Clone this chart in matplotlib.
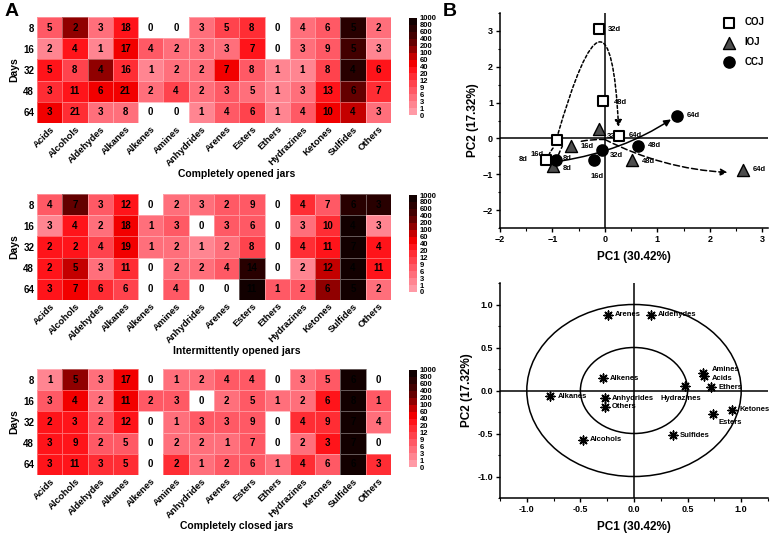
import numpy as np
import matplotlib
matplotlib.use("Agg")
import matplotlib.pyplot as plt
from matplotlib.colors import ListedColormap, BoundaryNorm
from matplotlib.patches import FancyArrowPatch, Ellipse
from matplotlib.path import Path
from matplotlib.ticker import MultipleLocator

plt.rcParams['font.family'] = ['Liberation Sans', 'DejaVu Sans']
plt.rcParams['font.weight'] = 'bold'

# ---------------- data ----------------
categories = ["Acids", "Alcohols", "Aldehydes", "Alkanes", "Alkenes", "Amines", "Anhydrides",
              "Arenes", "Esters", "Ethers", "Hydrazines", "Ketones", "Sulfides", "Others"]
days = ["8", "16", "32", "48", "64"]

coj_counts = [[5, 2, 3, 18, 0, 0, 3, 5, 8, 0, 4, 6, 5, 2],
              [2, 4, 1, 17, 4, 2, 3, 3, 7, 0, 3, 9, 5, 3],
              [5, 8, 4, 16, 1, 2, 2, 7, 8, 1, 1, 8, 4, 6],
              [3, 11, 6, 21, 2, 4, 2, 3, 5, 1, 3, 13, 6, 7],
              [3, 21, 3, 8, 0, 0, 1, 4, 6, 1, 4, 10, 4, 3]]
coj_level = [[7, 150, 3, 30, 0, 0, 3, 10, 15, 0, 3, 7, 700, 3],
             [2, 30, 2, 40, 8, 4, 3, 5, 25, 0, 3, 8, 500, 2],
             [25, 10, 100, 15, 2, 3, 3, 40, 7, 2, 2, 10, 700, 25],
             [15, 20, 40, 40, 3, 10, 3, 7, 4, 2, 3, 20, 300, 12],
             [40, 15, 4, 5, 0, 0, 2, 7, 10, 2, 7, 40, 80, 4]]

ioj_counts = [[4, 7, 3, 12, 0, 2, 3, 2, 9, 0, 4, 7, 6, 3],
              [3, 4, 2, 18, 1, 3, 0, 3, 6, 0, 3, 10, 4, 3],
              [2, 2, 4, 19, 1, 2, 1, 2, 8, 0, 4, 11, 7, 4],
              [2, 5, 3, 11, 0, 2, 2, 4, 14, 0, 2, 12, 4, 11],
              [3, 7, 6, 6, 0, 4, 0, 0, 11, 1, 2, 6, 5, 2]]
ioj_level = [[7, 200, 7, 30, 0, 3, 3, 6, 8, 0, 12, 6, 700, 700],
             [2, 30, 3, 50, 3, 7, 0, 6, 7, 0, 3, 15, 800, 2],
             [30, 25, 10, 40, 4, 4, 2, 4, 10, 0, 12, 25, 800, 25],
             [30, 80, 4, 15, 0, 3, 3, 6, 700, 0, 2, 70, 800, 25],
             [25, 40, 12, 10, 0, 6, 0, 0, 900, 6, 6, 150, 900, 5]]

ccj_counts = [[1, 5, 3, 17, 0, 1, 2, 4, 4, 0, 3, 5, 6, 0],
              [3, 4, 2, 11, 2, 3, 0, 2, 5, 1, 2, 6, 8, 1],
              [2, 3, 2, 12, 0, 1, 3, 3, 9, 0, 4, 9, 7, 4],
              [3, 9, 2, 5, 0, 2, 2, 1, 7, 0, 2, 3, 7, 0],
              [3, 11, 3, 5, 0, 2, 1, 2, 6, 1, 4, 6, 6, 3]]
ccj_level = [[2, 150, 3, 40, 0, 3, 3, 8, 6, 0, 3, 6, 900, 0],
             [7, 40, 3, 50, 6, 6, 0, 5, 7, 5, 4, 20, 900, 8],
             [30, 25, 7, 25, 0, 3, 7, 8, 8, 0, 15, 15, 900, 4],
             [30, 25, 7, 8, 0, 5, 4, 3, 7, 0, 4, 25, 900, 0],
             [30, 30, 15, 12, 0, 15, 3, 7, 7, 3, 15, 8, 900, 12]]

heat_titles = ["Completely opened jars", "Intermittently opened jars", "Completely closed jars"]
cbar_bounds = [0, 1, 3, 6, 9, 12, 20, 40, 60, 100, 200, 400, 600, 800, 1000]

# PCA scores
groups = ["COJ", "IOJ", "CCJ"]
coj_pc1 = [-1.12, -0.92, -0.12, -0.04, 0.26]
coj_pc2 = [-0.59, -0.05, 3.05, 1.04, 0.07]
ioj_pc1 = [-0.98, -0.65, -0.12, 0.52, 2.64]
ioj_pc2 = [-0.76, -0.20, 0.25, -0.60, -0.88]
ccj_pc1 = [-0.94, -0.20, -0.06, 0.63, 1.38]
ccj_pc2 = [-0.60, -0.60, -0.33, -0.21, 0.63]
time_labels = ["8d", "16d", "32d", "48d", "64d"]

# PCA loadings
load_names = ["Arenes", "Aldehydes", "Alkenes", "Amines", "Acids", "Hydrazines", "Ethers",
              "Alkanes", "Anhydrides", "Others", "Ketones", "Esters", "Sulfides", "Alcohols"]
load_pc1 = [-0.24, 0.16, -0.29, 0.645, 0.65, 0.48, 0.72, -0.78, -0.27, -0.27, 0.915, 0.74, 0.36, -0.48]
load_pc2 = [0.88, 0.88, 0.14, 0.20, 0.17, 0.056, 0.04, -0.065, -0.09, -0.19, -0.225, -0.27, -0.52, -0.57]

# ---------------- figure ----------------
W, H = 771, 533
fig = plt.figure(figsize=(W / 100, H / 100), dpi=100)


def ax_px(l, t, r, b):
    return fig.add_axes([l / W, 1 - b / H, (r - l) / W, (b - t) / H])


cmap = ListedColormap(['#ff9aa6', '#ff8591', '#ff6f7b', '#ff5965', '#ff434d', '#ff2d34',
                       '#ff141a', '#f20000', '#c40000', '#900000', '#640000', '#420000',
                       '#280000', '#120000'])
norm = BoundaryNorm(cbar_bounds, cmap.N)

heat_sets = [(coj_counts, coj_level), (ioj_counts, ioj_level), (ccj_counts, ccj_level)]
tops = [17, 194, 369]
for k, (counts, level) in enumerate(heat_sets):
    t = tops[k]
    ax = ax_px(37, t, 391, t + 106)
    lv = np.ma.masked_equal(np.array(level, dtype=float), 0)
    ax.pcolormesh(lv, cmap=cmap, norm=norm, edgecolors=(1, 1, 1, 0.35), linewidth=0.5)
    ax.set_xlim(0, len(categories))
    ax.set_ylim(len(days), 0)
    cnt = np.array(counts)
    for i in range(cnt.shape[0]):
        for j in range(cnt.shape[1]):
            ax.text(j + 0.5, i + 0.5, str(cnt[i, j]), ha='center', va='center',
                    fontsize=7, fontweight='bold', color='black')
    ax.set_xticks(np.arange(len(categories)) + 0.5)
    ax.set_xticklabels(categories, rotation=45, ha='right', rotation_mode='anchor',
                       fontsize=6.8, fontweight='bold')
    ax.set_yticks(np.arange(len(days)) + 0.5)
    ax.set_yticklabels(days, fontsize=7, fontweight='bold')
    ax.tick_params(length=0, pad=2)
    ax.tick_params(axis='x', pad=1)
    for s in ax.spines.values():
        s.set_visible(False)
    ax.set_ylabel("Days", fontsize=7.5, fontweight='bold', labelpad=3)
    fig.text(237 / W, 1 - (t + 157) / H, heat_titles[k], ha='center', va='center',
             fontsize=7.5, fontweight='bold')
    # colorbar
    cax = ax_px(409, t + 1, 417, t + 98)
    cb = fig.colorbar(plt.cm.ScalarMappable(norm=norm, cmap=cmap), cax=cax,
                      boundaries=cbar_bounds, ticks=cbar_bounds, spacing='uniform')
    cb.outline.set_visible(False)
    cb.ax.tick_params(length=0, labelsize=5.5, pad=2)
    cb.ax.set_yticklabels([str(v) for v in cbar_bounds], fontweight='bold')

fig.text(5 / W, 1 - 11 / H, "A", fontsize=14, fontweight='bold', va='center')
fig.text(443 / W, 1 - 11 / H, "B", fontsize=14, fontweight='bold', va='center')

# ---------------- PCA scores ----------------
axs = ax_px(500, 13, 768, 228)
axs.set_xlim(-2, 3.11)
axs.set_ylim(-2.5, 3.5)
axs.axhline(0, color='black', lw=1.1, zorder=1)
axs.axvline(0, color='black', lw=1.1, zorder=1)

# trend arrows (guides anchored on data points)
def arrow_path(pts, ls, head=True):
    codes = [Path.MOVETO] + [Path.CURVE3] * (len(pts) - 1)
    p = Path(pts, codes)
    a = FancyArrowPatch(path=p, arrowstyle='-|>,head_length=4,head_width=2' if head else '-',
                        linestyle=ls, lw=1.1, color='black', mutation_scale=1, zorder=2)
    axs.add_patch(a)

arrow_path([(coj_pc1[1], coj_pc2[1] + 0.05), (0.1, 5.2), (coj_pc1[4], 0.32)], (0, (2, 1.5)))
arrow_path([(coj_pc1[0] + 0.05, coj_pc2[0] + 0.12), (coj_pc1[0] + 0.1, coj_pc2[0] + 0.3),
            (coj_pc1[1] - 0.05, coj_pc2[1] - 0.2)], (0, (2, 1.5)), head=False)
arrow_path([(ioj_pc1[0] + 0.08, ioj_pc2[0] + 0.25), (ioj_pc1[0] + 0.12, ioj_pc2[0] + 0.4),
            (ioj_pc1[0] + 0.17, ioj_pc2[0] + 0.55)], (0, (4, 2)), head=False)
arrow_path([(-0.45, -0.08), (-0.25, -0.02), (0.0, -0.03)], (0, (4, 2)), head=False)
arrow_path([(0.0, -0.03), (1.1, -0.85), (ioj_pc1[4] - 0.3, ioj_pc2[4] - 0.07)], (0, (4, 2)))
arrow_path([(ccj_pc1[0] + 0.1, ccj_pc2[0] - 0.03), (0.35, -0.35), (ccj_pc1[4] - 0.12, ccj_pc2[4] - 0.1)], '-')

axs.scatter(coj_pc1, coj_pc2, marker='s', s=45, facecolor='white', edgecolor='black', lw=1.5, zorder=4, label=groups[0])
axs.scatter(ioj_pc1, ioj_pc2, marker='^', s=75, facecolor='#4d4d4d', edgecolor='black', lw=1, zorder=4, label=groups[1])
axs.scatter(ccj_pc1, ccj_pc2, marker='o', s=65, facecolor='black', edgecolor='black', zorder=4, label=groups[2])

lab_kw = dict(fontsize=5.5, fontweight='bold', textcoords='offset points', va='center')
coj_off = [(-13, 0, 'right'), (-9, -10, 'right'), (7, 0, 'left'), (8, -1, 'left'), (7, 0, 'left')]
ioj_off = [(7, -2, 'left'), (7, -1, 'left'), (6, -5, 'left'), (7, -1, 'left'), (7, 0, 'left')]
ccj_off = [(5, 1, 'left'), (-3, -12, 'left'), (6, -4, 'left'), (7, 0, 'left'), (7, 0, 'left')]
for xs, ys, offs in [(coj_pc1, coj_pc2, coj_off), (ioj_pc1, ioj_pc2, ioj_off), (ccj_pc1, ccj_pc2, ccj_off)]:
    for x, y, lbl, (dx, dy, ha) in zip(xs, ys, time_labels, offs):
        axs.annotate(lbl, (x, y), xytext=(dx, dy), ha=ha, **lab_kw)

leg = axs.legend(loc='upper right', bbox_to_anchor=(1.02, 1.02), frameon=False,
                 prop={'size': 7, 'weight': 'bold'}, handletextpad=0.6, labelspacing=1.0,
                 scatterpoints=1)

axs.spines['top'].set_visible(False)
axs.spines['right'].set_visible(False)
for s in ['left', 'bottom']:
    axs.spines[s].set_linewidth(1.1)
axs.xaxis.set_major_locator(MultipleLocator(1))
axs.xaxis.set_minor_locator(MultipleLocator(0.5))
axs.yaxis.set_major_locator(MultipleLocator(1))
axs.yaxis.set_minor_locator(MultipleLocator(0.5))
axs.set_yticks(np.arange(-2, 3.1, 1))
axs.tick_params(which='major', length=3, width=1, labelsize=6.5, pad=2)
axs.tick_params(which='minor', length=1.8, width=0.8)
for lb in axs.get_xticklabels() + axs.get_yticklabels():
    lb.set_fontweight('bold')
axs.set_xlabel("PC1 (30.42%)", fontsize=8.5, fontweight='bold', labelpad=5)
axs.set_ylabel("PC2 (17.32%)", fontsize=8.5, fontweight='bold', labelpad=3)

# ---------------- PCA loadings ----------------
axl = ax_px(500, 283, 768, 498)
axl.set_xlim(-1.25, 1.25)
axl.set_ylim(-1.25, 1.25)
axl.axhline(0, color='black', lw=1.1, zorder=1)
axl.axvline(0, color='black', lw=1.1, zorder=1)
axl.add_patch(Ellipse((0, 0), 2, 2, fill=False, lw=1.1, color='black'))
axl.add_patch(Ellipse((0, 0), 1, 1, fill=False, lw=1.1, color='black'))
axl.scatter(load_pc1, load_pc2, marker=(8, 2, 0), s=40, color='black', lw=1.1, zorder=3)

load_off = {"Arenes": (5, 0, 'left'), "Aldehydes": (5, 0, 'left'), "Alkenes": (5, 0, 'left'),
            "Amines": (6, 3, 'left'), "Acids": (6, -2, 'left'), "Hydrazines": (-3, -9, 'center'),
            "Ethers": (5, 0, 'left'), "Alkanes": (5, 0, 'left'), "Anhydrides": (5, 0, 'left'),
            "Others": (5, 0, 'left'), "Ketones": (5, 0, 'left'), "Esters": (4, -6, 'left'),
            "Sulfides": (5, 0, 'left'), "Alcohols": (5, 0, 'left')}
for x, y, n in zip(load_pc1, load_pc2, load_names):
    dx, dy, ha = load_off[n]
    axl.annotate(n, (x, y), xytext=(dx, dy), ha=ha, **lab_kw)

axl.spines['top'].set_visible(False)
axl.spines['right'].set_visible(False)
for s in ['left', 'bottom']:
    axl.spines[s].set_linewidth(1.1)
axl.set_xticks(np.arange(-1, 1.01, 0.5))
axl.set_yticks(np.arange(-1, 1.01, 0.5))
axl.xaxis.set_minor_locator(MultipleLocator(0.25))
axl.yaxis.set_minor_locator(MultipleLocator(0.25))
axl.tick_params(which='major', length=3, width=1, labelsize=6.5, pad=2)
axl.tick_params(which='minor', length=1.8, width=0.8)
axl.set_xticklabels([f"{v:.1f}" for v in np.arange(-1, 1.01, 0.5)], fontweight='bold')
axl.set_yticklabels([f"{v:.1f}" for v in np.arange(-1, 1.01, 0.5)], fontweight='bold')
axl.set_xlabel("PC1 (30.42%)", fontsize=8.5, fontweight='bold', labelpad=5)
axl.set_ylabel("PC2 (17.32%)", fontsize=8.5, fontweight='bold', labelpad=3)

fig.savefig("out.png", dpi=100)
